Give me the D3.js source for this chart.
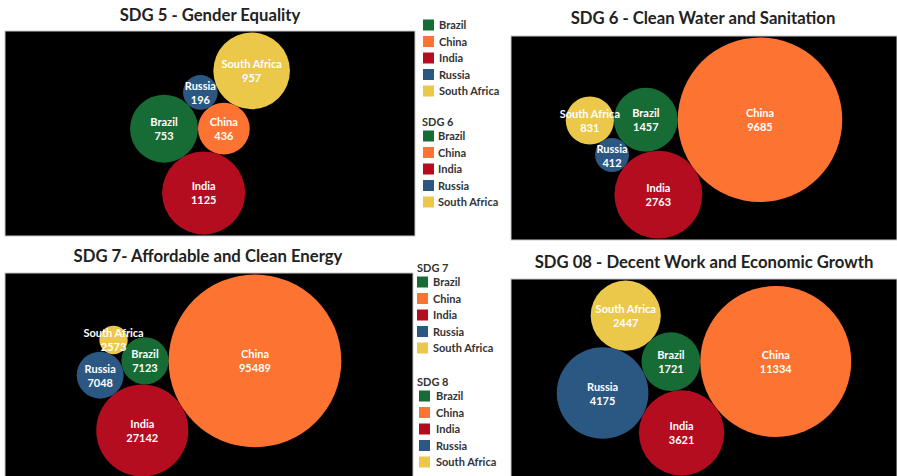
<!DOCTYPE html>
<html>
<head>
<meta charset="utf-8">
<script src="https://cdnjs.cloudflare.com/ajax/libs/d3/7.8.5/d3.min.js"></script>
<style>
  body { margin: 0; background: #fff; }
  text { font-family: Lato, "Open Sans", sans-serif; }
</style>
</head>
<body>
<svg width="897" height="476"></svg>
<script>
// data
var countries = ["Brazil", "China", "India", "Russia", "South Africa"];
var sdg5 = [753, 436, 1125, 196, 957];
var sdg6 = [1457, 9685, 2763, 412, 831];
var sdg7 = [7123, 95489, 27142, 7048, 2573];
var sdg8 = [1721, 11334, 3621, 4175, 2447];
var titles = ["SDG 5 - Gender Equality", "SDG 6 - Clean Water and Sanitation",
              "SDG 7- Affordable and Clean Energy", "SDG 08 - Decent Work and Economic Growth"];
var legendTitles = ["", "SDG 6", "SDG 7", "SDG 8"];

var svg = d3.select("svg");

var color = d3.scaleOrdinal()
  .domain(countries)
  .range(["#176c36", "#fc7332", "#b30d1f", "#2b5783", "#ebc84a"]);

// which two bubbles each new bubble leans on (Brazil and China go first)
var packA = [["India", "Brazil", "China"], ["Russia", "Brazil", "China"], ["South Africa", "China", "Russia"]];
var packB = [["India", "Brazil", "China"], ["Russia", "Brazil", "India"], ["South Africa", "Brazil", "Russia"]];

// panel boxes
var panels = [
  {values: sdg5, pack: packA, x: 5,   y: 31,  w: 410, h: 205, tx: 210, ty: 21},
  {values: sdg6, pack: packB, x: 511, y: 36,  w: 386, h: 204, tx: 703, ty: 24},
  {values: sdg7, pack: packB, x: 5,   y: 273, w: 408, h: 205, tx: 208, ty: 262},
  {values: sdg8, pack: packB, x: 511, y: 279, w: 386, h: 198, tx: 704, ty: 268}
];

var legends = [
  {title: legendTitles[0], tx: 422, sx: 423, lx: 439, y0: 25},
  {title: legendTitles[1], tx: 422, sx: 423, lx: 438, y0: 136},
  {title: legendTitles[2], tx: 417, sx: 417, lx: 433, y0: 282},
  {title: legendTitles[3], tx: 417, sx: 419, lx: 436, y0: 396}
];

// points where a circle of radius r touches both a and b
function tangentPoints(a, b, r) {
  var dx = b.x - a.x, dy = b.y - a.y, d = Math.hypot(dx, dy);
  var da = a.r + r, db = b.r + r;
  var x = (d * d + da * da - db * db) / (2 * d);
  var h = Math.sqrt(Math.max(0, da * da - x * x));
  var ux = dx / d, uy = dy / d;
  return [
    {x: a.x + x * ux - h * uy, y: a.y + x * uy + h * ux},
    {x: a.x + x * ux + h * uy, y: a.y + x * uy - h * ux}
  ];
}

function packBubbles(values, pack) {
  var rScale = d3.scaleSqrt().domain([0, d3.max(values)]).range([0, 1]);
  var circles = countries.map(function(c, i) {
    return {name: c, value: values[i], r: rScale(values[i])};
  });
  var byName = {};
  circles.forEach(function(c) { byName[c.name] = c; });

  var a = circles[0], b = circles[1];
  a.x = 0; a.y = 0;
  b.x = a.r + b.r; b.y = 0;
  var placed = [a, b];

  pack.forEach(function(p) {
    var c = byName[p[0]];
    var cands = tangentPoints(byName[p[1]], byName[p[2]], c.r);
    var free = cands.filter(function(pt) {
      return placed.every(function(o) {
        return Math.hypot(pt.x - o.x, pt.y - o.y) >= o.r + c.r - 1e-6;
      });
    });
    if (!free.length) free = cands;
    free.sort(function(m, n) { return n.y - m.y; });
    c.x = free[0].x; c.y = free[0].y;
    placed.push(c);
  });
  return circles;
}

panels.forEach(function(p, i) {
  svg.append("text")
    .attr("x", p.tx).attr("y", p.ty)
    .attr("text-anchor", "middle")
    .attr("font-size", 16.7).attr("font-weight", "bold")
    .attr("fill", "#222")
    .text(titles[i]);

  svg.append("rect")
    .attr("x", p.x).attr("y", p.y)
    .attr("width", p.w).attr("height", p.h)
    .attr("fill", "#000")
    .attr("stroke", "#c8c8c8").attr("stroke-width", 1);

  var circles = packBubbles(p.values, p.pack);
  var x0 = d3.min(circles, function(c) { return c.x - c.r; });
  var x1 = d3.max(circles, function(c) { return c.x + c.r; });
  var y0 = d3.min(circles, function(c) { return c.y - c.r; });
  var y1 = d3.max(circles, function(c) { return c.y + c.r; });
  var s = Math.min((p.w - 3) / (x1 - x0), (p.h - 3) / (y1 - y0));
  var ox = p.x + p.w / 2 - s * (x0 + x1) / 2;
  var oy = p.y + p.h / 2 - s * (y0 + y1) / 2;

  var g = svg.append("g").selectAll("g")
    .data(circles)
    .enter()
    .append("g")
    .attr("transform", function(d) { return "translate(" + (ox + s * d.x) + "," + (oy + s * d.y) + ")"; });

  g.append("circle")
    .attr("r", function(d) { return s * d.r; })
    .attr("fill", function(d) { return color(d.name); });

  var lbl = g.append("text")
    .attr("text-anchor", "middle")
    .attr("font-size", 11).attr("font-weight", "bold")
    .attr("fill", "#fff");
  lbl.append("tspan").attr("x", 0).attr("y", -2.5).text(function(d) { return d.name; });
  lbl.append("tspan").attr("x", 0).attr("y", 11.5).text(function(d) { return d.value; });
});

// legends
legends.forEach(function(l) {
  var lg = svg.append("g");
  if (l.title) {
    lg.append("text")
      .attr("x", l.tx).attr("y", l.y0 - 14.5 + 4)
      .attr("font-size", 11).attr("font-weight", "bold")
      .attr("fill", "#333")
      .text(l.title);
  }
  var item = lg.selectAll(".item")
    .data(countries)
    .enter()
    .append("g")
    .attr("transform", function(d, i) { return "translate(0," + (l.y0 + i * 16.5) + ")"; });
  item.append("rect")
    .attr("x", l.sx).attr("y", -5.5)
    .attr("width", 11).attr("height", 11)
    .attr("fill", function(d) { return color(d); });
  item.append("text")
    .attr("x", l.lx).attr("y", 4)
    .attr("font-size", 11).attr("font-weight", "bold")
    .attr("fill", "#333")
    .text(function(d) { return d; });
});
</script>
</body>
</html>
